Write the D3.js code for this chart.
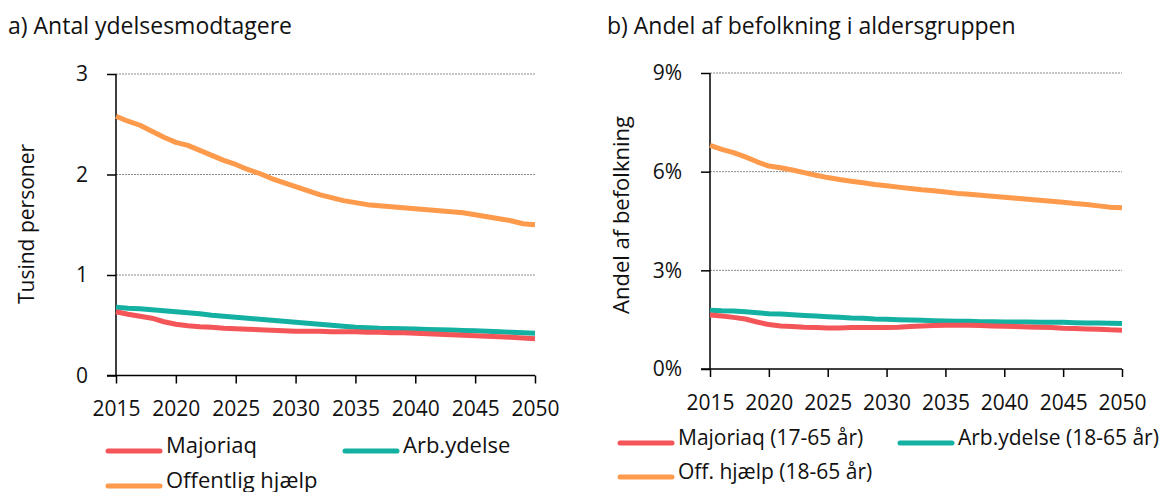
<!DOCTYPE html>
<html>
<head>
<meta charset="utf-8">
<style>
  body { margin: 0; background: #fff; }
  svg { font-family: "Open Sans", "Noto Sans", sans-serif; }
  .grid line { stroke: #8a8a8a; stroke-width: 1; stroke-dasharray: 2,1; }
</style>
</head>
<body>
<svg id="chart" width="1163" height="492"></svg>
<script src="https://cdnjs.cloudflare.com/ajax/libs/d3/7.8.5/d3.min.js"></script>
<script>
// years 2015-2050
var years = [2015,2016,2017,2018,2019,2020,2021,2022,2023,2024,2025,2026,2027,2028,2029,2030,
             2031,2032,2033,2034,2035,2036,2037,2038,2039,2040,2041,2042,2043,2044,2045,2046,
             2047,2048,2049,2050];
var xTicks = [2015,2020,2025,2030,2035,2040,2045,2050];

// a) tusind personer
var majoriaqA = [0.635,0.61,0.59,0.57,0.535,0.51,0.495,0.485,0.48,0.47,0.465,0.46,0.455,0.45,0.445,0.44,
                 0.44,0.44,0.435,0.435,0.435,0.43,0.43,0.425,0.425,0.42,0.415,0.41,0.405,0.40,0.395,0.39,
                 0.385,0.38,0.372,0.365];
var arbA = [0.68,0.67,0.665,0.655,0.645,0.635,0.625,0.615,0.60,0.59,0.58,0.57,0.56,0.55,0.54,0.53,
            0.52,0.51,0.50,0.49,0.48,0.475,0.47,0.468,0.465,0.462,0.458,0.455,0.452,0.448,0.445,0.44,
            0.435,0.43,0.425,0.42];
var offA = [2.58,2.53,2.49,2.43,2.37,2.32,2.29,2.24,2.19,2.14,2.10,2.05,2.01,1.96,1.92,1.88,
            1.84,1.80,1.77,1.74,1.72,1.70,1.69,1.68,1.67,1.66,1.65,1.64,1.63,1.62,1.60,1.58,
            1.56,1.54,1.51,1.50];
var yTicksA = [0,1,2,3];

// b) andel i procent
var majoriaqB = [1.64,1.61,1.57,1.52,1.43,1.35,1.31,1.29,1.27,1.26,1.25,1.25,1.26,1.26,1.26,1.26,
                 1.27,1.29,1.31,1.32,1.33,1.33,1.33,1.32,1.31,1.30,1.29,1.28,1.27,1.26,1.24,1.23,
                 1.22,1.21,1.19,1.18];
var arbB = [1.79,1.77,1.76,1.74,1.71,1.68,1.67,1.65,1.63,1.61,1.59,1.57,1.55,1.54,1.52,1.51,
            1.50,1.49,1.48,1.47,1.46,1.45,1.45,1.44,1.44,1.43,1.43,1.43,1.42,1.42,1.42,1.41,
            1.40,1.40,1.39,1.38];
var offB = [6.80,6.68,6.58,6.45,6.30,6.17,6.12,6.05,5.97,5.89,5.82,5.76,5.71,5.66,5.61,5.57,
            5.53,5.49,5.45,5.42,5.38,5.34,5.31,5.28,5.25,5.22,5.19,5.16,5.13,5.10,5.07,5.03,
            5.00,4.96,4.92,4.90];
var yTicksB = [0,3,6,9];

var colors = ["#f45559", "#14b1a2", "#fe9a4b"];
var namesA = ["Majoriaq", "Arb.ydelse", "Offentlig hjælp"];
var namesB = ["Majoriaq (17-65 år)", "Arb.ydelse (18-65 år)", "Off. hjælp (18-65 år)"];

var svg = d3.select("#chart");

function panel(opt) {
  var g = svg.append("g");
  var x = d3.scaleLinear().domain([2015, 2050]).range([opt.left, opt.right]);
  var y = d3.scaleLinear().domain([0, opt.ymax]).range([opt.bottom, opt.top]);

  g.append("text")
    .attr("x", opt.titleX).attr("y", 34)
    .attr("font-size", 23).attr("fill", "#111")
    .text(opt.title);

  // dotted grid
  g.append("g").attr("class", "grid")
    .selectAll("line")
    .data(opt.yTicks.filter(function(d) { return d > 0; }))
    .enter().append("line")
      .attr("x1", opt.left).attr("x2", opt.right)
      .attr("y1", function(d) { return y(d); })
      .attr("y2", function(d) { return y(d); });

  var yAxis = g.append("g")
    .attr("transform", "translate(" + opt.left + ",0)")
    .call(d3.axisLeft(y).tickValues(opt.yTicks).tickSize(9).tickPadding(opt.yPad)
      .tickFormat(opt.yFormat));
  yAxis.select(".domain").attr("stroke", "#000").attr("stroke-width", 1.5)
    .attr("d", "M0," + y(opt.ymax) + "V" + opt.bottom);
  yAxis.selectAll(".tick line").attr("stroke", "#000").attr("stroke-width", 1.5);
  yAxis.selectAll("text").attr("font-size", 21).attr("fill", "#111")
    .attr("font-family", "Open Sans, sans-serif");

  var xAxis = g.append("g")
    .attr("transform", "translate(0," + opt.bottom + ")")
    .call(d3.axisBottom(x).tickValues(xTicks).tickSize(8).tickPadding(18)
      .tickFormat(d3.format("d")));
  xAxis.select(".domain").attr("stroke", "#000").attr("stroke-width", 1.5)
    .attr("d", "M" + (opt.left - 9) + ",0H" + opt.right);
  xAxis.selectAll(".tick line").attr("stroke", "#000").attr("stroke-width", 1.5);
  xAxis.selectAll("text").attr("font-size", 21).attr("fill", "#111")
    .attr("font-family", "Open Sans, sans-serif");

  g.append("text")
    .attr("transform", "translate(" + opt.yTitleX + "," + opt.yTitleY + ") rotate(-90)")
    .attr("text-anchor", "middle").attr("font-size", opt.yTitleSize).attr("fill", "#111")
    .text(opt.yTitle);

  var line = d3.line()
    .x(function(d, i) { return x(years[i]); })
    .y(function(d) { return y(d); });

  // draw orange, teal, red in that order so red sits on top
  [2, 1, 0].forEach(function(k) {
    g.append("path")
      .datum(opt.series[k])
      .attr("fill", "none")
      .attr("stroke", colors[k])
      .attr("stroke-width", 5)
      .attr("stroke-linejoin", "round")
      .attr("d", line);
  });

  // legend
  var leg = g.append("g");
  opt.names.forEach(function(n, k) {
    var lx = opt.legX[k], ly = opt.legY[k];
    leg.append("line")
      .attr("x1", lx).attr("x2", lx + 52)
      .attr("y1", ly).attr("y2", ly)
      .attr("stroke", colors[k]).attr("stroke-width", 5)
      .attr("stroke-linecap", "round");
    leg.append("text")
      .attr("x", lx + 58).attr("y", ly).attr("dy", "0.1em")
      .attr("font-size", opt.legSize).attr("fill", "#111")
      .text(n);
  });
}

panel({
  title: "a) Antal ydelsesmodtagere", titleX: 8,
  left: 116, right: 535, top: 74, bottom: 375.5, ymax: 3,
  yTicks: yTicksA, yFormat: d3.format("d"), yPad: 19,
  yTitle: "Tusind personer", yTitleX: 34, yTitleY: 224, yTitleSize: 21,
  series: [majoriaqA, arbA, offA], names: namesA,
  legX: [108, 345, 108], legY: [451, 451, 486], legSize: 22
});

panel({
  title: "b) Andel af befolkning i aldersgruppen", titleX: 607,
  left: 710, right: 1122, top: 73, bottom: 369, ymax: 9,
  yTicks: yTicksB, yFormat: function(d) { return d + "%"; }, yPad: 19,
  yTitle: "Andel af befolkning", yTitleX: 629, yTitleY: 215, yTitleSize: 22,
  series: [majoriaqB, arbB, offB], names: namesB,
  legX: [620, 900, 620], legY: [443, 443, 477], legSize: 21
});
</script>
</body>
</html>
